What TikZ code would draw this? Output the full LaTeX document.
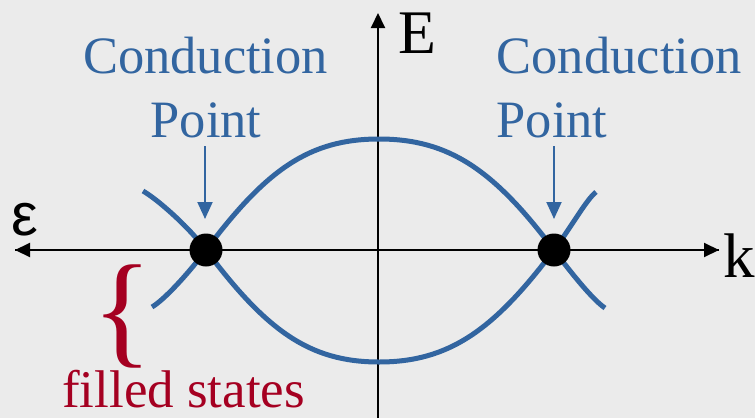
\documentclass[tikz,border=0pt]{standalone}
\usepackage{fontspec}
\setmainfont{Liberation Serif}
\newfontfamily\greekfont{Liberation Sans}
\usetikzlibrary{arrows.meta}
\definecolor{bg}{RGB}{235,235,235}
\definecolor{bandblue}{RGB}{50,101,160}
\definecolor{fillred}{RGB}{165,0,33}
\tikzset{
  axis/.style={line width=2pt, draw=black, -{Triangle[length=15pt,width=14pt]}},
  band/.style={line width=5pt, draw=bandblue},
  pointer/.style={line width=2pt, draw=bandblue, -{Triangle[length=17pt,width=15pt]}},
  dot/.style={circle, fill=black, minimum size=33pt, inner sep=0pt},
  lbl/.style={inner sep=0pt, anchor=base west},
  bluetxt/.style={inner sep=0pt, text=bandblue, font=\fontsize{52.5}{60}\selectfont},
}
\begin{document}
\begin{tikzpicture}[x=1pt,y=-1pt]
\fill[bg] (0,0) rectangle (755,418);
\useasboundingbox (0,0) rectangle (755,418);
% axes
\coordinate (xl) at (15,250);
\coordinate (xr) at (719,250);
\coordinate (yb) at (378,418);
\coordinate (yt) at (378,13);
\draw[axis] (xr) -- (xl);
\draw[axis] (xl) -- (xr);
\draw[axis] (yb) -- (yt);
% dot positions
\coordinate (pl) at (206,250);
\coordinate (pr) at (554,250);
% bands
\draw[band] (152,307) .. controls (164,300) and (188,274) .. (pl)
  .. controls (266,170) and (309,139) .. (379,139)
  .. controls (449,139) and (494,170) .. (pr)
  .. controls (572,274) and (593,300) .. (605,308);
\draw[band] (143,191) .. controls (157,199) and (188,226) .. (pl)
  .. controls (266,330) and (309,362) .. (379,362)
  .. controls (449,362) and (494,330) .. (pr)
  .. controls (572,226) and (586,200) .. (596,192);
% dots
\node[dot] (dl) at (pl) {};
\node[dot] (dr) at (pr) {};
% labels
\node[bluetxt, anchor=base] (cl) at (205.5,73) {Conduction};
\node[bluetxt, anchor=base] (ptl) at (206,137) {Point};
\node[bluetxt, anchor=base west] (cr) at (496.5,73) {Conduction};
\node[bluetxt, anchor=base west] (ptr) at (496.5,137) {Point};
\coordinate (al) at (205,219);
\coordinate (ar) at (554,219);
\coordinate (as) at (205,146);
\coordinate (bs) at (554,146);
\draw[pointer] (as) -- (al);
\draw[pointer] (bs) -- (ar);
% axis labels
\node[lbl, font=\fontsize{62}{62}\selectfont] (E) at (398,53) {E};
\node[lbl, font=\fontsize{63}{63}\selectfont] (k) at (723,277) {k};
\node[lbl, font=\greekfont\fontsize{60}{60}\selectfont] (eps) at (11,235) {ε};
% filled states
\node[lbl, text=fillred, font=\fontsize{125}{125}\selectfont] (brace) at (92,351) {\smash{\{}};
\node[lbl, text=fillred, font=\fontsize{53}{60}\selectfont] (fs) at (62,407) {filled states};
\end{tikzpicture}
\end{document}
